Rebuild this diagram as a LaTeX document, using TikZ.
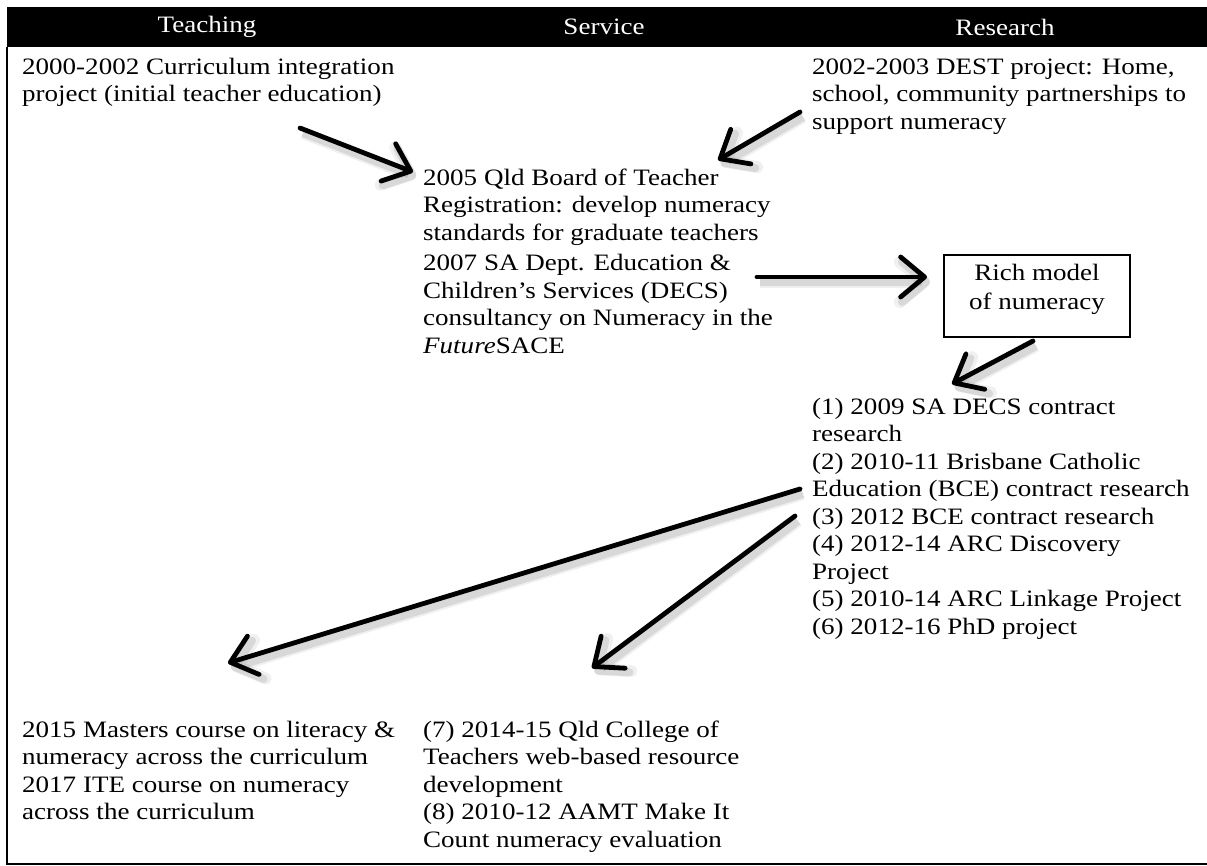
\documentclass[tikz,border=0pt]{standalone}
\usepackage{fontspec}
\setmainfont{Liberation Serif}[FakeStretch=1.15]
\usetikzlibrary{arrows.meta}
\tikzset{
  txt/.style={anchor=north west, inner sep=0pt, align=left, font=\fontsize{23.5}{27.5}\selectfont},
  hdr/.style={text=white, inner sep=0pt, font=\fontsize{23.5}{27.5}\selectfont},
  shadowed/.style={
    preaction={draw=black, opacity=0.06, line width=12pt, transform canvas={shift={(3pt,-5pt)}}},
    preaction={draw=black, opacity=0.10, line width=8pt, transform canvas={shift={(3pt,-5pt)}}}},
  bigarrow/.style={line width=4.8pt, line cap=round, line join=round,
    -{Straight Barb[length=24pt,width=40pt,round]}, shadowed},
  boxstyle/.style={draw, line width=1.5pt, minimum width=186pt, minimum height=82pt, inner sep=0pt},
}
\begin{document}
\begin{tikzpicture}[x=1pt,y=-1pt]
\useasboundingbox (0,0) rectangle (1207,866);
% frame
\fill[black] (7,7) rectangle (1207,47);
\draw[line width=1.5pt] (7,47) -- (7,864) -- (1207,864);
% header
\node[hdr] (hteach) at (207,27) {Teaching};
\node[hdr] (hserv) at (604,27) {Service};
\node[hdr] (hres) at (1005,27) {Research};
% texts
\node[txt] (teach1) at (22,55) {\strut 2000-2002 Curriculum integration\\project (initial teacher education)};
\node[txt] (dest) at (812,55) {\strut 2002-2003 DEST project: Home,\\school, community partnerships to\\support numeracy};
\node[txt] (serv) at (423,166) {\strut 2005 Qld Board of Teacher\\Registration: develop numeracy\\standards for graduate teachers\\[3pt]2007 SA Dept. Education \&\\Children's Services (DECS)\\consultancy on Numeracy in the\\\textit{Future}SACE};
\node[boxstyle] (box) at (1037,296) {};
\node[inner sep=0pt, align=center, font=\fontsize{23.5}{29}\selectfont] (boxtxt) at (1037,289) {Rich model\\of numeracy};
\node[txt] (res) at (812,395) {\strut (1) 2009 SA DECS contract\\research\\(2) 2010-11 Brisbane Catholic\\Education (BCE) contract research\\(3) 2012 BCE contract research\\(4) 2012-14 ARC Discovery\\Project\\(5) 2010-14 ARC Linkage Project\\(6) 2012-16 PhD project};
\node[txt] (teach2) at (22,718) {\strut 2015 Masters course on literacy \&\\numeracy across the curriculum\\2017 ITE course on numeracy\\across the curriculum};
\node[txt] (serv2) at (423,718) {\strut (7) 2014-15 Qld College of\\Teachers web-based resource\\development\\(8) 2010-12 AAMT Make It\\Count numeracy evaluation};
% arrow end points
\coordinate (a1s) at (300,128); \coordinate (a1e) at (413,172);
\coordinate (a2s) at (800,112); \coordinate (a2e) at (718,160);
\coordinate (a3s) at (757,277); \coordinate (a3e) at (927,277);
\coordinate (a4s) at (1033,341); \coordinate (a4e) at (952,384);
\coordinate (a5s) at (800,489); \coordinate (a5e) at (228,663);
\coordinate (a6s) at (795,516); \coordinate (a6e) at (592,668);
\draw[bigarrow] (a1s) -- (a1e);
\draw[bigarrow] (a2s) -- (a2e);
\draw[bigarrow] (a3s) -- (a3e);
\draw[bigarrow] (a4s) -- (a4e);
\draw[bigarrow] (a5s) -- (a5e);
\draw[bigarrow] (a6s) -- (a6e);
\end{tikzpicture}
\end{document}
